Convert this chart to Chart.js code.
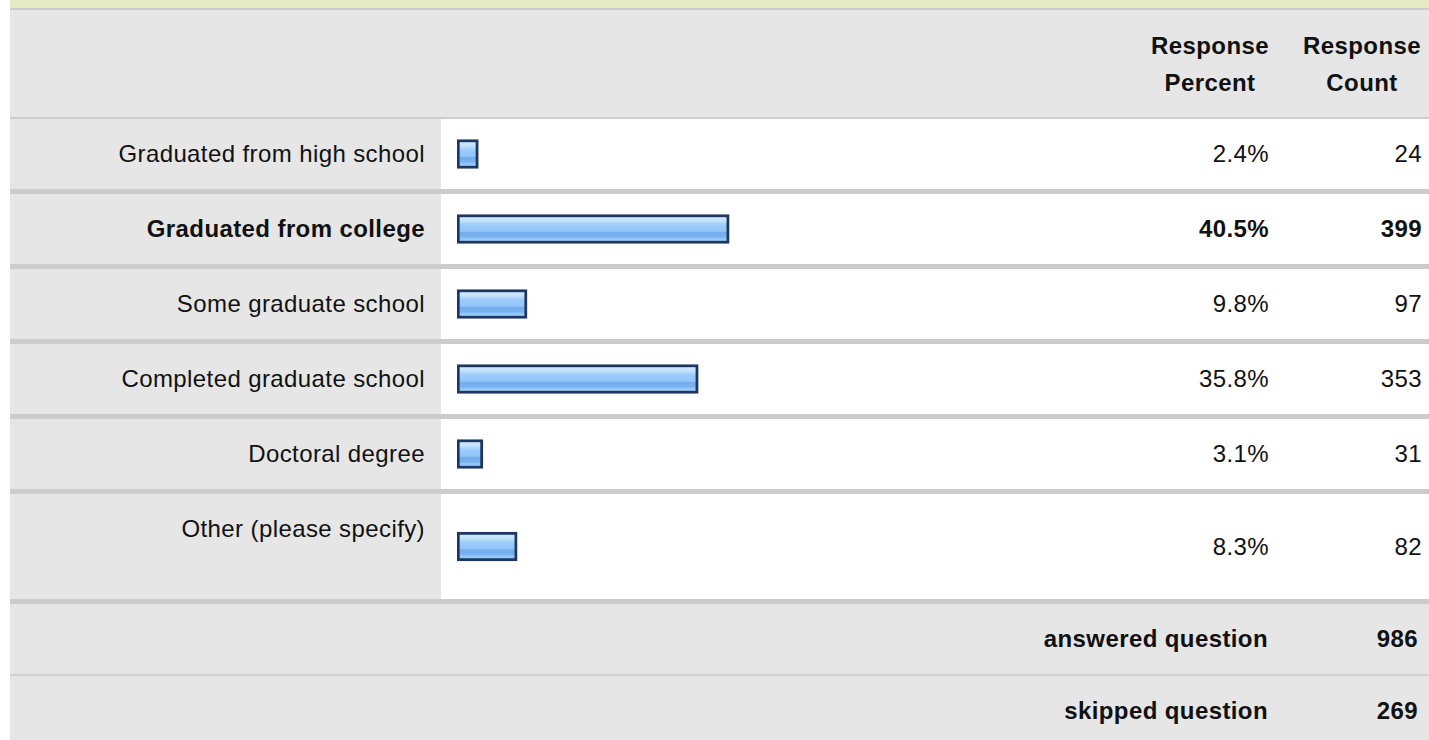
<!DOCTYPE html>
<html>
<head>
<meta charset="utf-8">
<script src="https://cdn.jsdelivr.net/npm/chart.js@4/dist/chart.umd.min.js"></script>
<style>
  body { margin: 0; background: #fff; font-family: "Liberation Sans", Arial, Helvetica, sans-serif; color: #111; }
  #wrap { position: absolute; left: 10px; top: 0; width: 1428px; }
  .strip { height: 8px; background: #e5ebc2; }
  .row { display: flex; border-bottom: 5px solid #cccccc; font-size: 24px; letter-spacing: 0.4px; }
  .head { background: #e6e6e6; height: 107px; border-top: 2px solid #cccccc; border-bottom: 2px solid #cccccc; font-weight: bold; }
  .head .sp { width: 1124px; }
  .head .col { width: 152px; display: flex; align-items: center; justify-content: center; text-align: center; line-height: 37px; }
  .label { width: 415px; padding-right: 16px; background: #e6e6e6; text-align: right; line-height: 70px; white-space: nowrap; }
  .bar { width: 693px; position: relative; }
  .num { width: 135px; padding-right: 17px; text-align: right; display: flex; align-items: center; justify-content: flex-end; }
  .cnt { width: 136px; padding-right: 16px; text-align: right; display: flex; align-items: center; justify-content: flex-end; }
  .b { font-weight: bold; }
  .foot { background: #e6e6e6; height: 70px; font-weight: bold; border-bottom: 2px solid #d2d2d2; }
  .foot .t { width: 1258px; padding-right: 18px; text-align: right; line-height: 70px; }
  .foot .c { width: 132px; padding-right: 20px; text-align: right; line-height: 70px; }
</style>
</head>
<body>
<div id="wrap">
  <div class="strip"></div>
  <div class="row head">
    <div class="sp"></div>
    <div class="col">Response<br>Percent</div>
    <div class="col">Response<br>Count</div>
  </div>
  <div id="rows"></div>
  <div class="row foot"><div class="t">answered question</div><div class="c" id="answered"></div></div>
  <div class="row foot" style="border-bottom:none"><div class="t">skipped question</div><div class="c" id="skipped"></div></div>
</div>
<script>
const categories = ["Graduated from high school", "Graduated from college", "Some graduate school", "Completed graduate school", "Doctoral degree", "Other (please specify)"];
const responsePercent = [2.4, 40.5, 9.8, 35.8, 3.1, 8.3];
const responseCount = [24, 399, 97, 353, 31, 82];
const answeredQuestion = 986;
const skippedQuestion = 269;

const rowsDiv = document.getElementById("rows");
const maxIdx = responseCount.indexOf(Math.max(...responseCount));

categories.forEach((cat, i) => {
  const h = i === categories.length - 1 ? 105 : 70;
  const row = document.createElement("div");
  row.className = "row" + (i === maxIdx ? " b" : "");
  row.style.height = h + "px";
  row.innerHTML =
    `<div class="label">${cat}</div>` +
    `<div class="bar"><canvas id="bar${i}"></canvas></div>` +
    `<div class="num">${responsePercent[i].toFixed(1)}%</div>` +
    `<div class="cnt">${responseCount[i]}</div>`;
  rowsDiv.appendChild(row);
  createChart("bar" + i, cat, responsePercent[i]);
});
document.getElementById("answered").innerText = answeredQuestion;
document.getElementById("skipped").innerText = skippedQuestion;

// striped "glass" look of the bar image
function barFill(context) {
  const chart = context.chart;
  const area = chart.chartArea;
  if (!area) return "#97c8f9";
  const mid = (area.top + area.bottom) / 2;
  const g = chart.ctx.createLinearGradient(0, mid - 14.5, 0, mid + 14.5);
  g.addColorStop(0, "#d0e8fd");
  g.addColorStop(0.22, "#c6e3fc");
  g.addColorStop(0.3, "#a9d4fb");
  g.addColorStop(0.4, "#99cafa");
  g.addColorStop(0.58, "#92c5f8");
  g.addColorStop(0.62, "#74acec");
  g.addColorStop(0.78, "#7ab3f0");
  g.addColorStop(0.82, "#92c6f8");
  g.addColorStop(1, "#9ccdfa");
  return g;
}

function createChart(id, category, percent) {
  const canvas = document.getElementById(id);
  const config = {
    type: "bar",
    data: {
      labels: [category],
      datasets: [
        {
          data: [percent],
          base: -0.84,
          backgroundColor: barFill,
          borderColor: "#1d3760",
          borderWidth: 3,
          borderSkipped: false,
          barThickness: 29,
        },
      ],
    },
    options: {
      indexAxis: "y",
      responsive: true,
      maintainAspectRatio: false,
      animation: false,
      layout: { padding: { left: 16, right: 13, top: 0, bottom: 0 } },
      scales: {
        x: { display: false, min: -0.84, max: 100 },
        y: { display: false },
      },
      plugins: {
        legend: { display: false },
        tooltip: { enabled: false },
      },
    },
  };
  return new Chart(canvas, config);
}
</script>
</body>
</html>
